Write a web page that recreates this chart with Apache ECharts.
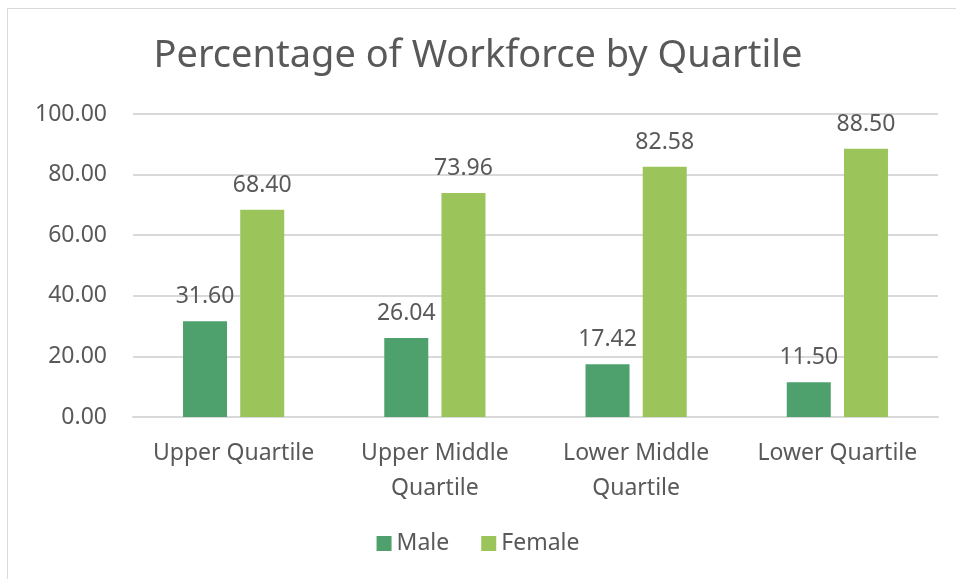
<!DOCTYPE html>
<html>
<head>
<meta charset="utf-8">
<script src="https://cdn.jsdelivr.net/npm/echarts@6/dist/echarts.min.js"></script>
<style>
  html, body { margin: 0; padding: 0; background: #fff; overflow: hidden; }
  .frame {
    position: absolute; left: 7px; top: 8px; width: 1000px; height: 600px;
    border: 1px solid #d9d9d9; box-sizing: border-box;
  }
  #chart { position: absolute; left: 0; top: 0; width: 956px; height: 579px; }
</style>
</head>
<body>
<div class="frame"></div>
<div id="chart"></div>
<script>
  var categories = ['Upper Quartile', 'Upper Middle\nQuartile', 'Lower Middle\nQuartile', 'Lower Quartile'];
  var maleValues = [31.60, 26.04, 17.42, 11.50];
  var femaleValues = [68.40, 73.96, 82.58, 88.50];
  var yTicks = { min: 0, max: 100, interval: 20 };

  var textColor = '#595959';
  var font = '"Noto Sans", "Open Sans", sans-serif';
  var labelSize = 23;

  var option = {
    color: ['#4EA06C', '#9BC55A'],
    title: {
      text: 'Percentage of Workforce by Quartile',
      left: 'center',
      top: 32,
      textStyle: { color: textColor, fontSize: 38, fontWeight: 'normal', fontFamily: font }
    },
    legend: {
      bottom: 19,
      left: 'center',
      itemWidth: 15,
      itemHeight: 15,
      itemGap: 32,
      icon: 'rect',
      textStyle: { color: textColor, fontSize: labelSize, fontFamily: font }
    },
    grid: { left: 133, right: 18, top: 114, bottom: 162 },
    xAxis: {
      type: 'category',
      data: categories,
      axisLine: { lineStyle: { color: '#d9d9d9', width: 2 } },
      axisTick: { show: false },
      axisLabel: { color: textColor, fontSize: labelSize, fontFamily: font, margin: 19, lineHeight: 35, interval: 0 }
    },
    yAxis: {
      type: 'value',
      min: yTicks.min,
      max: yTicks.max,
      interval: yTicks.interval,
      axisLine: { show: false },
      axisTick: { show: false },
      splitLine: { lineStyle: { color: '#d9d9d9', width: 2 } },
      axisLabel: {
        color: textColor, fontSize: labelSize, fontFamily: font, margin: 26,
        formatter: function (v) { return v.toFixed(2); }
      }
    },
    series: [
      {
        name: 'Male',
        type: 'bar',
        data: maleValues,
        barWidth: 44,
        barGap: '30%',
        label: {
          show: true, position: 'top', distance: 13,
          color: textColor, fontSize: labelSize, fontFamily: font,
          formatter: function (p) { return p.value.toFixed(2); }
        }
      },
      {
        name: 'Female',
        type: 'bar',
        data: femaleValues,
        barWidth: 44,
        label: {
          show: true, position: 'top', distance: 13,
          color: textColor, fontSize: labelSize, fontFamily: font,
          formatter: function (p) { return p.value.toFixed(2); }
        }
      }
    ]
  };

  var myChart = echarts.init(document.getElementById('chart'));
  myChart.setOption(option);
</script>
</body>
</html>
